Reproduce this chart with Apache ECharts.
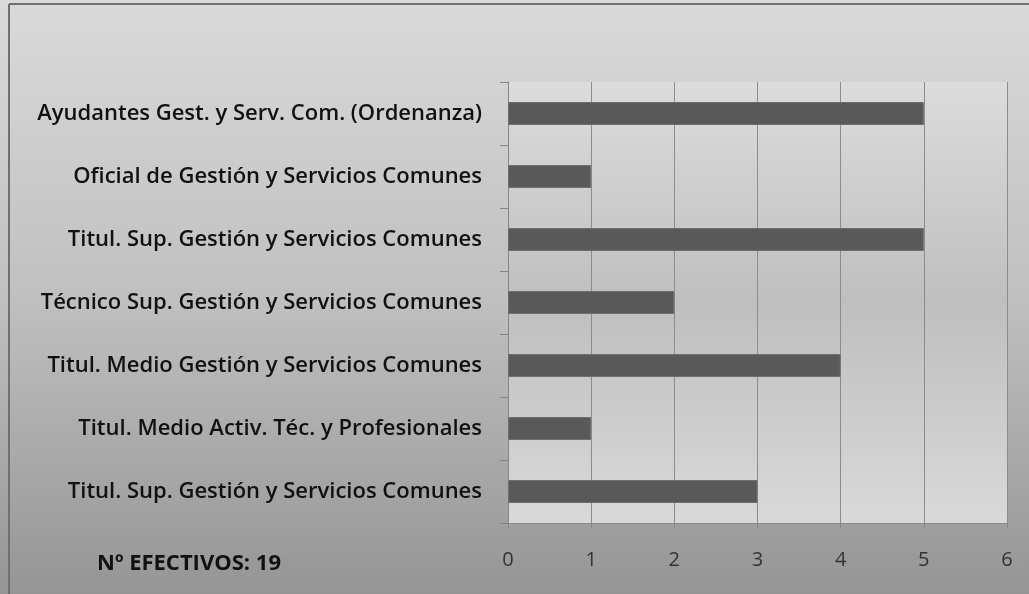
<!DOCTYPE html>
<html>
<head>
<meta charset="utf-8">
<script src="https://cdn.jsdelivr.net/npm/echarts@6/dist/echarts.min.js"></script>
<style>
  html, body { margin: 0; padding: 0; }
  #chart { width: 1029px; height: 594px; }
</style>
</head>
<body>
<div id="chart"></div>
<script>
// categorias de abajo hacia arriba (orden del eje)
var categorias = [
    'Titul. Sup. Gestión y Servicios Comunes',
    'Titul. Medio Activ. Téc. y Profesionales',
    'Titul. Medio Gestión y Servicios Comunes',
    'Técnico Sup. Gestión y Servicios Comunes',
    'Titul. Sup. Gestión y Servicios Comunes',
    'Oficial de Gestión y Servicios Comunes',
    'Ayudantes Gest. y Serv. Com. (Ordenanza)'
];
var efectivos = [3, 1, 4, 2, 5, 1, 5];
var ticksX = [0, 1, 2, 3, 4, 5, 6];
var totalTexto = 'Nº EFECTIVOS: 19';

var chartBox = document.getElementById('chart');
var myChart = echarts.init(chartBox);

var option = {
    animation: false,
    backgroundColor: new echarts.graphic.LinearGradient(0, 0, 0, 1, [
        { offset: 0, color: '#dadada' },
        { offset: 0.5, color: '#c0c0c0' },
        { offset: 1, color: '#959595' }
    ]),
    grid: {
        left: 508,
        right: 22,
        top: 82,
        bottom: 71,
        show: true,
        borderWidth: 0,
        backgroundColor: new echarts.graphic.LinearGradient(0, 0, 0, 1, [
            { offset: 0, color: '#dcdcdc' },
            { offset: 0.5, color: '#bfbfbf' },
            { offset: 1, color: '#d9d9d9' }
        ])
    },
    graphic: [
        {
            type: 'line',
            shape: { x1: 9, y1: 4, x2: 1029, y2: 4 },
            style: { stroke: '#707070', lineWidth: 2 }
        },
        {
            type: 'line',
            shape: { x1: 9, y1: 4, x2: 9, y2: 594 },
            style: { stroke: '#707070', lineWidth: 2 }
        },
        {
            type: 'text',
            left: 97,
            top: 553,
            style: {
                text: totalTexto,
                font: 'bold 22px "Open Sans"',
                fill: '#111111'
            }
        }
    ],
    xAxis: {
        type: 'value',
        min: ticksX[0],
        max: ticksX[ticksX.length - 1],
        interval: 1,
        axisLine: { show: true, lineStyle: { color: '#868686' } },
        axisTick: { show: true, length: 5, lineStyle: { color: '#868686' } },
        axisLabel: {
            color: '#333333',
            fontSize: 20,
            fontFamily: 'Open Sans',
            margin: 27
        },
        splitLine: { show: true, lineStyle: { color: '#8c8c8c', width: 1 } }
    },
    yAxis: {
        type: 'category',
        data: categorias,
        axisLine: { show: true, lineStyle: { color: '#868686' } },
        axisTick: { show: true, length: 8, lineStyle: { color: '#868686' } },
        axisLabel: {
            color: '#111111',
            fontSize: 22,
            fontWeight: 600,
            fontFamily: 'Open Sans',
            margin: 26
        },
        splitLine: { show: false }
    },
    series: [
        {
            name: 'Efectivos',
            type: 'bar',
            data: efectivos,
            barWidth: 23,
            itemStyle: {
                color: '#595959',
                borderColor: '#6e6e6e',
                borderWidth: 1
            }
        }
    ]
};
myChart.setOption(option);
</script>
</body>
</html>
